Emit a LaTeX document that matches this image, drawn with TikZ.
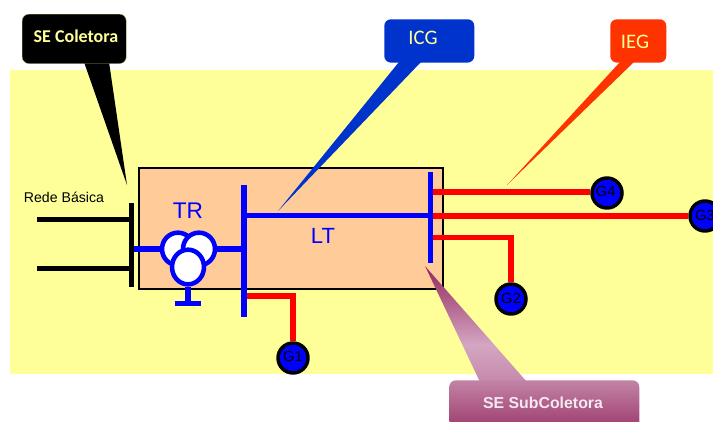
\documentclass[tikz,border=0pt]{standalone}
\usetikzlibrary{shapes.geometric}
\usepackage{fontspec}
\setmainfont{Liberation Sans}
\newfontfamily\calfont{Carlito}
\definecolor{bgyel}{HTML}{FFFF99}
\definecolor{boxor}{HTML}{FFCC99}
\definecolor{txtyel}{HTML}{FFFF99}
\definecolor{icgblue}{HTML}{0033CC}
\definecolor{iegred}{HTML}{FF3300}
\definecolor{subdark}{HTML}{993366}
\definecolor{sublight}{HTML}{D4A6C2}
\definecolor{palet}{HTML}{FFFFCC}
\pgfdeclareverticalshading{icgfade}{100bp}{color(0bp)=(palet); color(25bp)=(palet); color(34bp)=(icgblue); color(58bp)=(icgblue); color(100bp)=(icgblue)}
\pgfdeclareverticalshading{iegfade}{100bp}{color(0bp)=(palet); color(25bp)=(palet); color(40bp)=(iegred); color(62bp)=(iegred); color(100bp)=(iegred)}
\pgfdeclareverticalshading{subfade}{100bp}{color(0bp)=(sublight!75!subdark); color(25bp)=(sublight!75!subdark); color(41bp)=(sublight); color(72bp)=(subdark); color(100bp)=(subdark)}
\tikzset{
  px/.style={x=0.75pt,y=-0.75pt},
  bluew/.style={draw=blue,line width=4pt},
  blackw/.style={draw=black,line width=3.75pt},
  redw/.style={draw=red,line width=4pt},
  gen/.style={circle,draw=black,line width=2.6pt,fill=blue,minimum size=22.5pt,inner sep=0pt,font=\fontsize{11}{11}\selectfont,text=black},
  coil/.style={ellipse,draw=blue,line width=3.4pt,fill=white,inner sep=0pt},
  callout/.style={rounded corners=5pt,inner sep=0pt,anchor=north west,font=\calfont},
  lbl/.style={inner sep=0pt,text=blue,font=\fontsize{17}{17}\selectfont},
}
\begin{document}
\begin{tikzpicture}[px]
\useasboundingbox (0,0) rectangle (713,421);
\begin{scope}
\clip (0,0) rectangle (713,421);
\fill[bgyel] (10,70) rectangle (713,374);
\node[draw=black,line width=1.5pt,fill=boxor,minimum width=228pt,minimum height=90.5pt,inner sep=0pt,anchor=north west] (box) at (138,167) {};

% external lines and buses
\coordinate (bb1) at (131,203);
\coordinate (bb2) at (131,287);
\coordinate (la) at (37,219);
\coordinate (lb) at (37,268);
\coordinate (laE) at (131,219);
\coordinate (lbE) at (131,268);
\draw[blackw] (la) -- (laE);
\draw[blackw] (lb) -- (lbE);
\draw[blackw] (bb1) -- (bb2);

\coordinate (bus1t) at (244,185);
\coordinate (bus1b) at (244,317);
\coordinate (bus2t) at (430.5,172);
\coordinate (bus2b) at (430.5,263);
\coordinate (trL) at (134,249);
\coordinate (trR) at (244,249);
\coordinate (ltL) at (244,215.5);
\coordinate (ltR) at (430.5,215.5);
\draw[bluew] (trL) -- (trR);
\draw[bluew] (ltL) -- (ltR);

% transformer
\node[coil,minimum width=24pt,minimum height=24.5pt] (c1) at (178,249) {};
\node[coil,minimum width=24pt,minimum height=24.5pt] (c2) at (199,249) {};
\node[coil,minimum width=24pt,minimum height=26pt] (c3) at (188,267) {};
\coordinate (gnd) at (188,303.5);
\coordinate (gndL) at (174.5,303.5);
\coordinate (gndR) at (201,303.5);
\draw[bluew] (c3.south) -- (gnd);
\draw[bluew] (gndL) -- (gndR);

% generators
\node[gen] (G1) at (293,358) {\raisebox{2.2pt}{G1}};
\node[gen] (G2) at (511,299) {\raisebox{1.5pt}{G2}};
\node[gen] (G3) at (705,216) {\raisebox{1pt}{G3}};
\node[gen] (G4) at (607,193) {\hspace{-2pt}\raisebox{3pt}{G4}};
\coordinate (r1) at (246,296);
\coordinate (r2) at (432,192);
\coordinate (r3) at (432,216);
\coordinate (r4) at (432,237.5);
\draw[redw] (r1) -| (G1.north);
\draw[redw] (r2) -- (G4.west |- r2);
\draw[redw] (r3) -- (G3.west |- r3);
\draw[redw] (r4) -| (G2.north);
\draw[bluew] (bus1t) -- (bus1b);
\draw[bluew] (bus2t) -- (bus2b);

% labels
\node[lbl] (TR) at (188,211) {TR};
\node[lbl,font=\fontsize{16.5}{16.5}\selectfont] (LT) at (323,236) {LT};
\node[inner sep=0pt,font=\fontsize{10.6}{10.6}\selectfont] (RB) at (64,197) {Rede Básica};

% callouts
\fill[black] (84,62) -- (127,185) -- (109,62) -- cycle;
\node[callout,fill=black,draw=bgyel!60!black,line width=0.3pt,minimum width=78pt,minimum height=37pt] (sec) at (22,14) {};
\node[inner sep=0pt,text=txtyel,font=\calfont\bfseries\fontsize{13.5}{13.5}\selectfont] (sect) at (76,36.5) {SE Coletora};

\shade[shading=icgfade,shading angle=-135] (399,62) -- (278,211) -- (421,62) -- cycle;
\node[callout,fill=icgblue,minimum width=67.5pt,minimum height=32.5pt] (icg) at (384,19) {};
\node[inner sep=0pt,text=txtyel,font=\calfont\fontsize{15.5}{15.5}\selectfont] (icgt) at (423,38) {ICG};

\shade[shading=iegfade,shading angle=-135] (620,62) -- (507,185) -- (634,62) -- cycle;
\node[callout,fill=iegred,minimum width=42pt,minimum height=32.5pt] (ieg) at (610,19) {};
\node[inner sep=0pt,text=txtyel,font=\calfont\fontsize{15.5}{15.5}\selectfont] (iegt) at (635,42) {IEG};

\shade[shading=subfade] (425,266) -- (480,382) -- (527,382) -- cycle;
\node[callout,minimum width=142.5pt,minimum height=41pt,top color=sublight!70!subdark,bottom color=subdark] (sub) at (449,380) {};
\node[inner sep=0pt,text=white!75!sublight,font=\bfseries\fontsize{11.9}{11.9}\selectfont] (subt) at (543,403) {SE SubColetora};
\end{scope}
\end{tikzpicture}
\end{document}
